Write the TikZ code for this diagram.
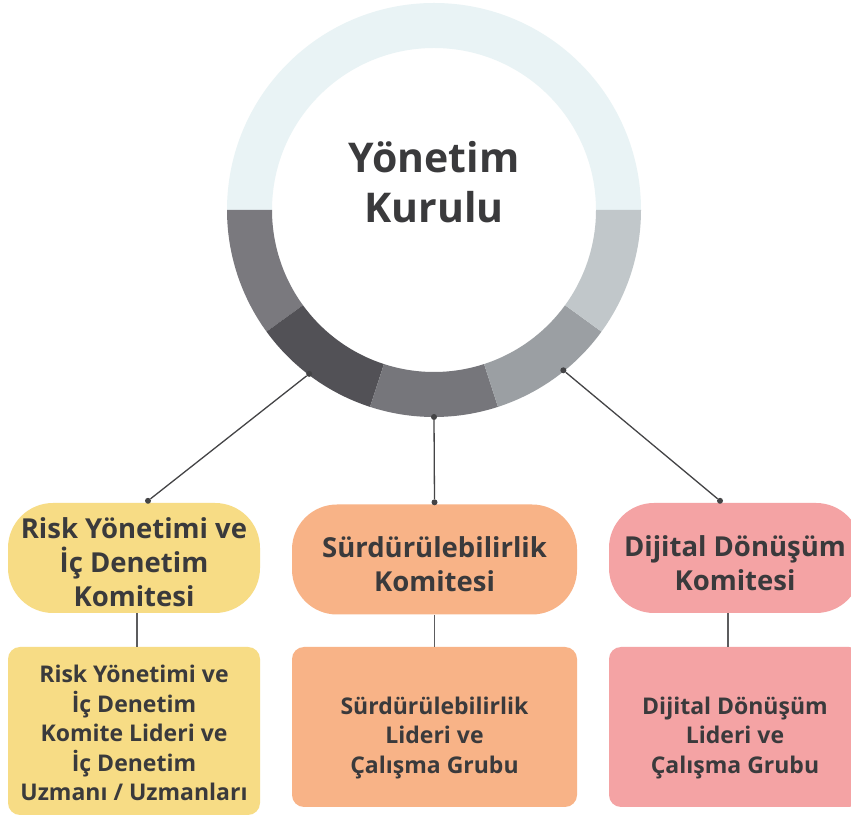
\documentclass[tikz,border=0pt]{standalone}
\usepackage{fontspec}
\setmainfont{Open Sans}
\usetikzlibrary{calc}
\definecolor{halkaust}{HTML}{E9F3F5}
\definecolor{halkasol}{HTML}{7A797E}
\definecolor{halkakoyu}{HTML}{525156}
\definecolor{halkaalt}{HTML}{76767B}
\definecolor{halkaacik}{HTML}{9B9FA3}
\definecolor{halkasag}{HTML}{C1C7CA}
\definecolor{sari}{HTML}{F7DC85}
\definecolor{turuncu}{HTML}{F8B387}
\definecolor{pembe}{HTML}{F4A3A4}
\definecolor{yazi}{HTML}{3A3A3C}
\definecolor{cizgi}{HTML}{444446}
\definecolor{dikcizgi}{HTML}{5C5C5E}
\begin{document}
\begin{tikzpicture}[x=1pt,y=1pt,
	komite/.style={rounded corners=45pt,minimum width=252pt,minimum height=110pt,inner sep=0pt,align=center,text=yazi,font=\bfseries\fontsize{27.5}{34}\selectfont,text height=65pt,text depth=0pt},
	ekip/.style={rounded corners=12pt,minimum width=252pt,minimum height=160pt,inner sep=0pt,align=center,text=yazi,font=\bfseries\fontsize{23}{29.5}\selectfont,text height=93pt,text depth=0pt},
	bag/.style={draw=cizgi,line width=1.3pt},
	nokta/.style={circle,fill=cizgi,inner sep=0pt,minimum size=6pt}]
	\useasboundingbox (0,0) rectangle (851,816);
	\fill[white] (0,0) rectangle (851,816);
	%HALKA
	\coordinate (merkez) at (434,606);
	\foreach \a/\b/\renk in {0/180/halkaust,180/216/halkasol,216/252/halkakoyu,252/288/halkaalt,288/324/halkaacik,324/360/halkasag}
		\fill[\renk] ($(merkez)+(\a:207)$) arc[start angle=\a,end angle=\b,radius=207] -- ($(merkez)+(\b:162)$) arc[start angle=\b,end angle=\a,radius=162] -- cycle;
	\node[text=yazi,align=center,font=\bfseries\fontsize{41}{50}\selectfont] (kurul) at (434,634) {Yönetim\\Kurulu};
	%KOMITELER
	\node[komite,fill=sari,text height=97pt] (risk) at (134,258) {Risk Yönetimi ve\\İç Denetim\\Komitesi};
	\node[komite,fill=turuncu,minimum width=285pt] (sur) at (434.5,256.5) {Sürdürülebilirlik\\Komitesi};
	\node[komite,fill=pembe] (dij) at (735,258) {Dijital Dönüşüm\\Komitesi};
	\node[ekip,fill=sari,minimum height=168pt,text height=140pt] (riskekip) at (134,85) {Risk Yönetimi ve\\İç Denetim\\Komite Lideri ve\\İç Denetim\\Uzmanı / Uzmanları};
	\node[ekip,fill=turuncu,minimum width=285pt] (surekip) at (434.5,89) {Sürdürülebilirlik\\Lideri ve\\Çalışma Grubu};
	\node[ekip,fill=pembe] (dijekip) at (735,89) {Dijital Dönüşüm\\Lideri ve\\Çalışma Grubu};
	%BAGLAR
	\node[nokta] (h1) at ($(merkez)+(232.7:206)$) {};
	\node[nokta] (h2) at ($(merkez)+(270:207)$) {};
	\node[nokta] (h3) at ($(merkez)+(308.9:206)$) {};
	\node[nokta] (k1) at ([xshift=14,yshift=2]risk.north) {};
	\node[nokta] (k2) at ([yshift=2]sur.north) {};
	\node[nokta] (k3) at ([xshift=-15,yshift=2]dij.north) {};
	\draw[bag] (h1) -- (k1);
	\draw[bag] (h2) -- (k2);
	\draw[bag] (h3) -- (k3);
	\draw[bag,draw=dikcizgi] ([xshift=3]risk.south) -- ([xshift=3]riskekip.north);
	\draw[bag,draw=dikcizgi] (sur.south) -- (surekip.north);
	\draw[bag,draw=dikcizgi] ([xshift=-7]dij.south) -- ([xshift=-7]dijekip.north);
\end{tikzpicture}
\end{document}
